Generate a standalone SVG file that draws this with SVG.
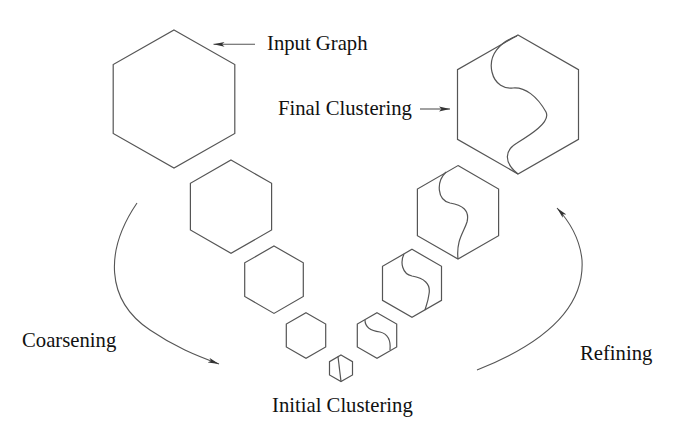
<svg xmlns="http://www.w3.org/2000/svg" width="694" height="436" viewBox="0 0 694 436">
<style>
.hex{fill:none;stroke:#555;stroke-width:1.2;stroke-linejoin:miter}
.cut{fill:none;stroke:#555;stroke-width:1.2}
.con{fill:none;stroke:#555;stroke-width:1.1}
.lbl{font-family:"Liberation Serif","Times New Roman",serif;font-size:20.7px;fill:#111}
</style>
<defs>
<marker id="ah" markerWidth="12" markerHeight="6" refX="11" refY="3" orient="auto" markerUnits="userSpaceOnUse">
<path d="M0,0.6 L11,3 L0,5.4 L2.5,3 Z" fill="#333"/>
</marker>
</defs>
<rect width="694" height="436" fill="#fff"/>
<g id="input-graph">
<polygon class="hex" points="174,30 234.8,64.5 234.8,133.5 174,168 113.2,133.5 113.2,64.5"/>
</g>
<g id="coarse-1">
<polygon class="hex" points="231,160 271.6,183.3 271.6,230 231,253.3 190.4,230 190.4,183.3"/>
</g>
<g id="coarse-2">
<polygon class="hex" points="274,246 303.3,262.8 303.3,296.5 274,313.4 244.7,296.5 244.7,262.8"/>
</g>
<g id="coarse-3">
<polygon class="hex" points="306,312.7 325.7,324.1 325.7,346.9 306,358.3 286.3,346.9 286.3,324.1"/>
</g>
<g id="initial">
<polygon class="hex" points="341,355 352.5,361.65 352.5,374.95 341,381.6 329.5,374.95 329.5,361.65"/>
<line class="cut" x1="338" y1="356.5" x2="341" y2="381.6"/>
</g>
<g id="refine-1">
<polygon class="hex" points="377,312.7 396.7,324.1 396.7,346.9 377,358.3 357.3,346.9 357.3,324.1"/>
<path class="cut" d="M365,320 C365,328 372,331 380,332 C388,334 391,340 390,350"/>
</g>
<g id="refine-2">
<polygon class="hex" points="412,249.3 441.5,266.3 441.5,300.3 412,317.3 382.5,300.3 382.5,266.3"/>
<path class="cut" d="M404,254 C400,262 402,274 412,276 C424,278 431,284 429,294 C428,302 426,306 425,310"/>
</g>
<g id="refine-3">
<polygon class="hex" points="458,165.6 498.6,189 498.6,235.7 458,259 417.4,235.7 417.4,189"/>
<path class="cut" d="M446,172 C436,182 437,200 450,203 C462,205 470,210 467,222 C464,232 456,240 458,259"/>
</g>
<g id="final">
<polygon class="hex" points="518,35 578.5,69.7 578.5,139.3 518,174 457.5,139.3 457.5,69.7"/>
<path class="cut" d="M517,36 C500,42 488,55 492,72 C495,85 505,89 513,88 C525,87 537,96 546,112 C551,122 530,135 517,143 C505,150 503,162 518,174"/>
</g>
<g id="connectors">
<line class="con" x1="255" y1="44.3" x2="213.5" y2="44.3" marker-end="url(#ah)"/>
<line class="con" x1="420" y1="109" x2="450" y2="109" marker-end="url(#ah)"/>
<path class="con" d="M137,203 C105,250 105,300 150,330 C175,347 195,355 219,364" marker-end="url(#ah)"/>
<path class="con" d="M477,370 C540,345 585,310 582,260 C580,240 570,222 557,208" marker-end="url(#ah)"/>
</g>
<g id="labels">
<text class="lbl" x="267" y="50">Input Graph</text>
<text class="lbl" x="278" y="115">Final Clustering</text>
<text class="lbl" x="22" y="347">Coarsening</text>
<text class="lbl" x="580" y="360">Refining</text>
<text class="lbl" x="272" y="412">Initial Clustering</text>
</g>
</svg>
